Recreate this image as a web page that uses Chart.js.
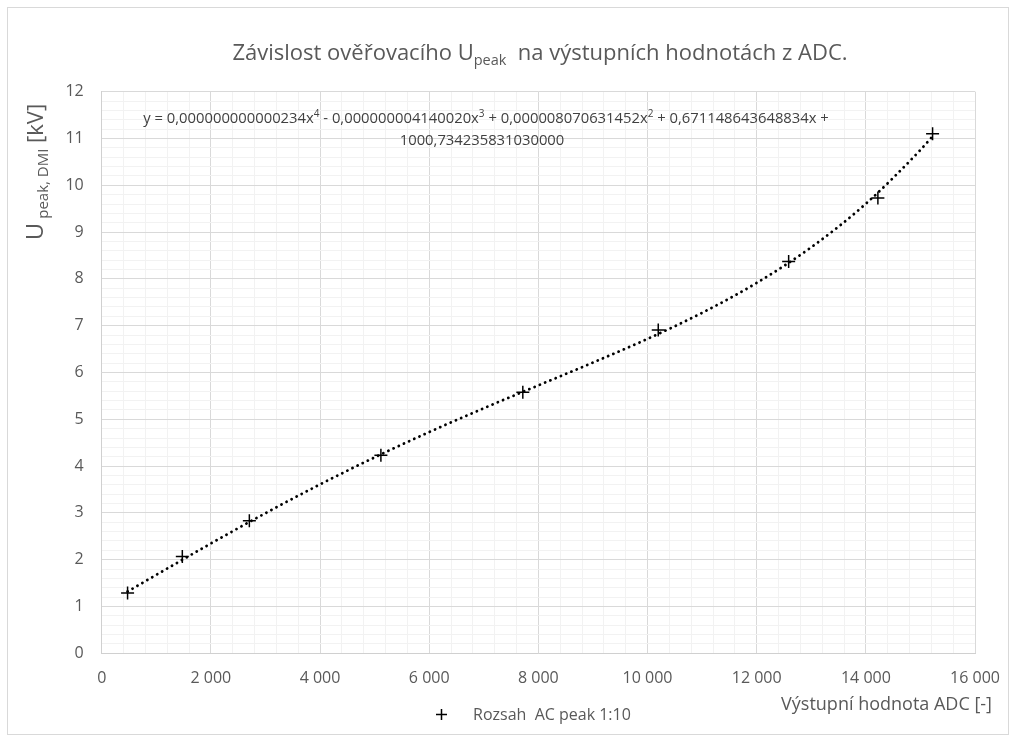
<!DOCTYPE html>
<html>
<head>
<meta charset="utf-8">
<script src="https://cdn.jsdelivr.net/npm/chart.js@4.4.1/dist/chart.umd.min.js"></script>
<style>
html, body { margin: 0; padding: 0; background: #fff; }
#wrap { position: relative; width: 1016px; height: 742px; }
</style>
</head>
<body>
<div id="wrap"><canvas id="chart"></canvas></div>
<script>
// measured points: ADC output vs. U peak [kV]
var adcValues = [474, 1477, 2705, 5115, 7715, 10196, 12585, 14220, 15222];
var voltageKV = [1.29, 2.07, 2.83, 4.23, 5.58, 6.91, 8.37, 9.73, 11.10];

// 4th order trend line
var trendAdc = [474, 1000, 2000, 3000, 4000, 5000, 6000, 7000, 8000, 9000, 10000, 11000, 12000, 13000, 14000, 15000, 15222];
var trendKV = [1.320, 1.676, 2.346, 2.994, 3.609, 4.187, 4.727, 5.236, 5.725, 6.212, 6.719, 7.275, 7.915, 8.677, 9.607, 10.757, 11.047];

var xMin = 0, xMax = 16000, xMajor = 2000, xMinor = 400;
var yMin = 0, yMax = 12, yMajor = 1, yMinor = 0.2;

var seriesName = 'Rozsah  AC peak 1:10';
var xTitle = 'Výstupní hodnota ADC [-]';
var titleParts = ['Závislost ověřovacího U', 'peak', '  na výstupních hodnotách z ADC.'];
var yTitleParts = ['U', ' peak, DMI', ' [kV]'];
var eqLine1 = [['y = 0,000000000000234x', 0], ['4', 1], [' - 0,000000004140020x', 0], ['3', 1],
               [' + 0,000008070631452x', 0], ['2', 1], [' + 0,671148643648834x +', 0]];
var eqLine2 = '1000,734235831030000';

var FONT = '"Open Sans", sans-serif';
var TXT = '#595959';

function richText(ctx, parts, x, y) {
    var w = 0;
    parts.forEach(function (p) {
        ctx.font = p.size + 'px ' + FONT;
        p.w = ctx.measureText(p.text).width;
        w += p.w;
    });
    var cx = x - w / 2;
    parts.forEach(function (p) {
        ctx.font = p.size + 'px ' + FONT;
        ctx.fillText(p.text, cx, y + (p.dy || 0));
        cx += p.w;
    });
}

function isMajor(v, step) {
    var r = v / step;
    return Math.abs(r - Math.round(r)) < 1e-6;
}

function fmtThousands(v) {
    return String(Math.round(v)).replace(/\B(?=(\d{3})+(?!\d))/g, ' ');
}

var decor = {
    id: 'decor',
    beforeDraw: function (chart) {
        var ctx = chart.ctx;
        ctx.save();
        ctx.fillStyle = '#fff';
        ctx.fillRect(0, 0, chart.width, chart.height);
        ctx.restore();
    },
    afterDraw: function (chart) {
        var ctx = chart.ctx;
        ctx.save();
        ctx.fillStyle = TXT;
        ctx.textAlign = 'left';
        ctx.textBaseline = 'alphabetic';

        // title
        richText(ctx, [
            { text: titleParts[0], size: 22 },
            { text: titleParts[1], size: 14.5, dy: 5 },
            { text: titleParts[2], size: 22 }
        ], 540, 60);

        // y axis title
        ctx.save();
        ctx.translate(43, 172);
        ctx.rotate(-Math.PI / 2);
        richText(ctx, [
            { text: yTitleParts[0], size: 24 },
            { text: yTitleParts[1], size: 15, dy: 5 },
            { text: yTitleParts[2], size: 22 }
        ], 0, 0);
        ctx.restore();

        // trend line equation
        ctx.fillStyle = '#404040';
        richText(ctx, eqLine1.map(function (s) {
            return s[1] ? { text: s[0], size: 10, dy: -6 } : { text: s[0], size: 14.8 };
        }), 486, 123);
        richText(ctx, [{ text: eqLine2, size: 14.8 }], 482, 145);

        // legend
        var ds = chart.data.datasets[0];
        ctx.strokeStyle = ds.borderColor;
        ctx.lineWidth = ds.borderWidth;
        ctx.beginPath();
        ctx.moveTo(436, 714.5); ctx.lineTo(447, 714.5);
        ctx.moveTo(441.5, 709); ctx.lineTo(441.5, 720);
        ctx.stroke();
        ctx.fillStyle = TXT;
        ctx.font = '16px ' + FONT;
        ctx.textBaseline = 'middle';
        ctx.fillText(seriesName, 473, 715);

        // x axis title
        ctx.font = '18px ' + FONT;
        ctx.textAlign = 'right';
        ctx.fillText(xTitle, 992, 705);

        // chart frame
        ctx.strokeStyle = '#d9d9d9';
        ctx.lineWidth = 1;
        ctx.strokeRect(7.5, 7.5, 1001, 727);
        ctx.restore();
    }
};

var points = adcValues.map(function (x, i) { return { x: x, y: voltageKV[i] }; });
var trend = trendAdc.map(function (x, i) { return { x: x, y: trendKV[i] }; });

new Chart(document.getElementById('chart'), {
    type: 'scatter',
    data: {
        datasets: [
            {
                label: seriesName,
                data: points,
                pointStyle: 'cross',
                pointRadius: 6.5,
                pointHoverRadius: 6.5,
                borderColor: '#000',
                backgroundColor: '#000',
                borderWidth: 1.5,
                order: 0
            },
            {
                label: 'trend',
                data: trend,
                showLine: true,
                pointRadius: 0,
                borderColor: '#000',
                borderWidth: 2.8,
                borderDash: [0.1, 5.6],
                borderCapStyle: 'round',
                cubicInterpolationMode: 'monotone',
                fill: false,
                order: 1
            }
        ]
    },
    options: {
        responsive: true,
        maintainAspectRatio: false,
        animation: false,
        events: [],
        layout: { padding: { left: 0, top: 91.7, right: 36.7, bottom: 0 } },
        plugins: {
            legend: { display: false },
            title: { display: false },
            tooltip: { enabled: false }
        },
        scales: {
            x: {
                type: 'linear',
                min: xMin,
                max: xMax,
                afterFit: function (s) { s.height = 88.7; },
                border: { color: '#d0d0d0', width: 1 },
                grid: {
                    drawTicks: false,
                    color: function (c) { return isMajor(c.tick.value, xMajor) ? '#d9d9d9' : '#f2f2f2'; }
                },
                ticks: {
                    stepSize: xMinor,
                    autoSkip: false,
                    maxRotation: 0,
                    minRotation: 0,
                    padding: 16,
                    color: TXT,
                    font: { family: FONT, size: 16 },
                    callback: function (v) { return isMajor(v, xMajor) ? fmtThousands(v) : ''; }
                }
            },
            y: {
                type: 'linear',
                min: yMin,
                max: yMax,
                afterFit: function (s) { s.width = 101.7; },
                border: { color: '#d0d0d0', width: 1 },
                grid: {
                    drawTicks: false,
                    color: function (c) { return isMajor(c.tick.value, yMajor) ? '#d9d9d9' : '#f2f2f2'; }
                },
                ticks: {
                    stepSize: yMinor,
                    autoSkip: false,
                    padding: 18,
                    color: TXT,
                    font: { family: FONT, size: 16 },
                    callback: function (v) { return isMajor(v, yMajor) ? String(Math.round(v)) : ''; }
                }
            }
        }
    },
    plugins: [decor]
});
</script>
</body>
</html>
